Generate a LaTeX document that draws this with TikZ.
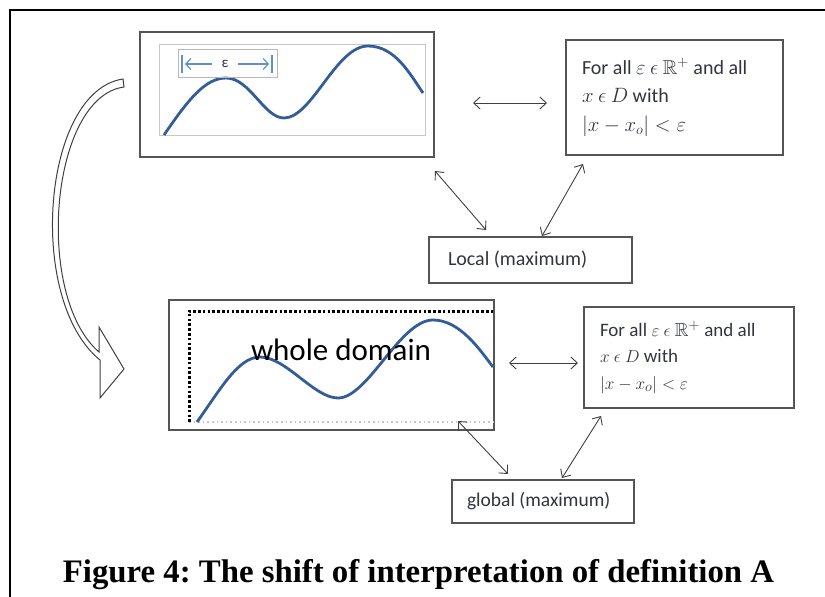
\documentclass[tikz,border=0pt]{standalone}
\usepackage{fontspec}
\usepackage{amssymb}
\setmainfont{Liberation Serif}
\newfontfamily\calfont{Carlito}
\usetikzlibrary{arrows.meta}
\definecolor{boxgray}{RGB}{85,85,85}
\definecolor{txtgray}{RGB}{50,52,62}
\definecolor{curveblue}{RGB}{52,92,152}
\definecolor{epsblue}{RGB}{95,145,210}
\frenchspacing
\begin{document}
\begin{tikzpicture}[x=1pt,y=-1pt,
  panel/.style={draw=boxgray, line width=1.6pt, inner sep=0pt},
  defbox/.style={draw=boxgray, line width=1.3pt, inner sep=0pt, align=flush left, text=txtgray},
  labbox/.style={draw=boxgray, line width=1.3pt, inner sep=0pt, align=flush left, text=txtgray,
                 font=\calfont\fontsize{20}{24}\selectfont},
  link/.style={{Straight Barb[length=6.5pt,width=12pt]}-{Straight Barb[length=6.5pt,width=12pt]},
               draw=black!75, line width=0.9pt},
  wave/.style={draw=curveblue, line width=2.8pt},
  dotline/.style={line width=3pt, dash pattern=on 2.6pt off 2.2pt}
]
\useasboundingbox (0,0) rectangle (825,597);

% outer frame
\draw[line width=2pt] (10,597) -- (10,10) -- (825,10);

% ---------- top panel ----------
\node[panel, minimum width=294pt, minimum height=125pt] (top) at (287,94.5) {};
\draw[gray!45, line width=0.8pt] (159,44) rectangle (425,135);
\draw[wave] (164,135) .. controls (188,100) and (205,78) .. (226,78)
   .. controls (250,78) and (264,118) .. (284,118)
   .. controls (312,118) and (336,46) .. (368,46)
   .. controls (395,46) and (410,74) .. (423,93);
\draw[gray!55, line width=0.8pt] (178,49) rectangle (277,77);
\draw[epsblue, line width=1.2pt] (182,55) -- (182,73) (272,55) -- (272,73);
\node[text=txtgray, font=\calfont\fontsize{15}{15}\selectfont] (eps) at (225,63.5) {ε};
\coordinate (ea1) at (212,64);
\coordinate (ea2) at (185,64);
\coordinate (eb1) at (238,64);
\coordinate (eb2) at (269,64);
\draw[epsblue, line width=1.2pt, -{Straight Barb[length=5pt,width=11pt]}] (ea1) -- (ea2);
\draw[epsblue, line width=1.2pt, -{Straight Barb[length=5pt,width=11pt]}] (eb1) -- (eb2);

% top definition box
\node[defbox, minimum width=217pt, minimum height=115pt, text width=185pt,
      font=\calfont\fontsize{20}{28.5}\selectfont] (deftop) at (674.5,97.5)
  {For all $\varepsilon$ $\epsilon$ $\mathbb{R}^{+}$ and all\\
   $x$ $\epsilon$ $D$ with\\
   $|x-x_o|<\varepsilon$};

% local box
\node[labbox, minimum width=203pt, minimum height=46pt, text width=165pt] (local) at (530.5,260) {Local (maximum)};

% ---------- bottom panel ----------
\node[panel, minimum width=325pt, minimum height=130pt] (bot) at (331.5,365) {};
\draw[draw=gray!45, line width=1.6pt, dash pattern=on 1.6pt off 3pt] (189,422) -- (493,422);
\draw[dotline, draw=black] (189,422) -- (189,311) -- (493,311);
\draw[wave] (197,422) .. controls (220,390) and (238,357) .. (260,357)
   .. controls (286,357) and (314,398) .. (338,398)
   .. controls (368,398) and (400,320) .. (433,320)
   .. controls (460,320) and (480,350) .. (493,367);
\node[font=\calfont\fontsize{31}{31}\selectfont, anchor=base, text=black] (whole) at (341,360) {whole domain};

\node[defbox, minimum width=210pt, minimum height=101pt, text width=178pt,
      font=\calfont\fontsize{19}{26.5}\selectfont] (defbot) at (689,357.5)
  {For all $\varepsilon$ $\epsilon$ $\mathbb{R}^{+}$ and all\\
   $x$ $\epsilon$ $D$ with\\
   $|x-x_o|<\varepsilon$};

\node[labbox, minimum width=182pt, minimum height=43pt, text width=152pt,
      font=\calfont\fontsize{19.5}{24}\selectfont] (global) at (543,501.5) {global (maximum)};

% ---------- connectors ----------
\coordinate (t1) at (473,103);  \coordinate (t2) at (547,103);
\coordinate (t3) at (435,171);  \coordinate (t4) at (486,230);
\coordinate (t5) at (583,164);  \coordinate (t6) at (542,236);
\coordinate (b1) at (509,363);  \coordinate (b2) at (578,363);
\coordinate (b3) at (458,421);  \coordinate (b4) at (508,474);
\coordinate (b5) at (601,416);  \coordinate (b6) at (562,478);
\draw[link] (t1) -- (t2);
\draw[link] (t3) -- (t4);
\draw[link] (t5) -- (t6);
\draw[link] (b1) -- (b2);
\draw[link] (b3) -- (b4);
\draw[link] (b5) -- (b6);

% ---------- curved hollow arrow ----------
\filldraw[fill=white, draw=black!75, line width=1pt]
  (123,79) -- (124,87)
  .. controls (50,97) and (34,296) .. (99,352)
  -- (99,327) -- (124,369) -- (100,398) -- (100,360)
  .. controls (26,300) and (42,91) .. (123,79) -- cycle;

% caption
\node[font=\bfseries\fontsize{32.8}{36}\selectfont, anchor=base] (cap) at (418.5,582)
  {Figure 4: The shift of interpretation of definition A};
\end{tikzpicture}
\end{document}
